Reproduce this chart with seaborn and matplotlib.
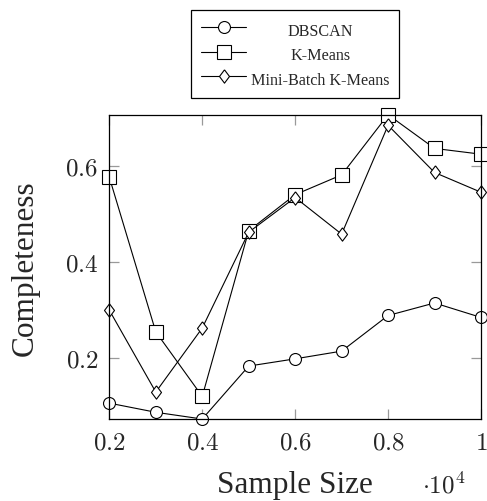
import matplotlib
matplotlib.use("Agg")
import matplotlib.pyplot as plt
import seaborn as sns
import pandas as pd
from matplotlib.offsetbox import TextArea
from matplotlib.transforms import Bbox

# ---- data (sample size in units of 10^4) ----
sample_size = [0.2, 0.3, 0.4, 0.5, 0.6, 0.7, 0.8, 0.9, 1.0]
dbscan = [0.107, 0.088, 0.074, 0.184, 0.199, 0.215, 0.289, 0.315, 0.285]
kmeans = [0.576, 0.255, 0.121, 0.465, 0.540, 0.581, 0.706, 0.636, 0.624]
minibatch = [0.300, 0.130, 0.263, 0.462, 0.534, 0.458, 0.684, 0.586, 0.545]
series_names = ["DBSCAN", "K-Means", "Mini-Batch K-Means"]
x_ticks = [0.2, 0.4, 0.6, 0.8, 1.0]
x_tick_labels = ["0.2", "0.4", "0.6", "0.8", "1"]
y_ticks = [0.2, 0.4, 0.6]
y_tick_labels = ["0.2", "0.4", "0.6"]
x_label = "Sample Size"
y_label = "Completeness"
x_scale_label = r"$\cdot 10^{4}$"

sns.set_style("white")
plt.rcParams["font.family"] = ["Liberation Serif", "DejaVu Serif"]
plt.rcParams["mathtext.fontset"] = "cm"

fig = plt.figure(figsize=(4.87, 5.02), dpi=100)
ax = fig.add_axes([0.2245, 0.1633, 0.7632, 0.6062])

diamond = [(0, 1), (0.75, 0), (0, -1), (-0.75, 0), (0, 1)]
styles = [("o", 8.6), ("s", 10.0), (diamond, 9.6)]
all_values = [dbscan, kmeans, minibatch]

for name, vals, (mk, ms) in zip(series_names, all_values, styles):
    df = pd.DataFrame({"x": sample_size, "y": vals})
    sns.lineplot(data=df, x="x", y="y", ax=ax, color="black", linewidth=0.8,
                 marker=mk, markersize=ms, markerfacecolor="white",
                 markeredgecolor="black", markeredgewidth=0.8,
                 label=name, clip_on=False, legend=False)

ax.set_xlim(min(sample_size), max(sample_size))
flat = dbscan + kmeans + minibatch
ax.set_ylim(min(flat), max(flat))

ax.set_xticks(x_ticks, labels=[f"${t}$" for t in x_tick_labels])
ax.set_yticks(y_ticks, labels=[f"${t}$" for t in y_tick_labels])
ax.tick_params(axis="both", direction="in", length=7.5, width=0.9,
               color="#999999", labelsize=18, top=True, right=True,
               bottom=True, left=True)
ax.tick_params(axis="x", pad=9)
ax.tick_params(axis="y", pad=8)
for sp in ax.spines.values():
    sp.set_color("black")
    sp.set_linewidth(0.9)
    sp.set_visible(True)

ax.set_xlabel(x_label, fontsize=22.5, va="baseline")
ax.xaxis.set_label_coords(0.5, -0.24)
ax.set_ylabel(y_label, fontsize=22.5, va="center")
ax.yaxis.set_label_coords(-0.225, 0.5)
ax.text(0.9005, -0.24, x_scale_label, transform=ax.transAxes,
        ha="center", va="baseline", fontsize=18)

handles = ax.get_lines()[:3]
leg = ax.legend(handles, series_names, loc="lower center",
                bbox_to_anchor=(0.5, 1.055), frameon=True, fancybox=False,
                edgecolor="black", framealpha=1, fontsize=11.6,
                handlelength=2.8, handletextpad=0.3, borderpad=0.6,
                labelspacing=0.3, handleheight=1.5, borderaxespad=0)
leg.get_frame().set_linewidth(0.9)

# centre the legend texts within their column
tas = []
for col in leg._legend_handle_box.get_children():
    for row in col.get_children():
        for c in row.get_children():
            if isinstance(c, TextArea):
                tas.append(c)
orig = {id(t): t.get_bbox for t in tas}


def _patched(t):
    def gb(renderer):
        W = max(orig[id(o)](renderer).width for o in tas)
        b = orig[id(t)](renderer)
        return Bbox.from_bounds(b.x0 - (W - b.width) / 2, b.y0, W, b.height)
    return gb


for t in tas:
    t.get_bbox = _patched(t)

fig.savefig("out.png", dpi=100)
